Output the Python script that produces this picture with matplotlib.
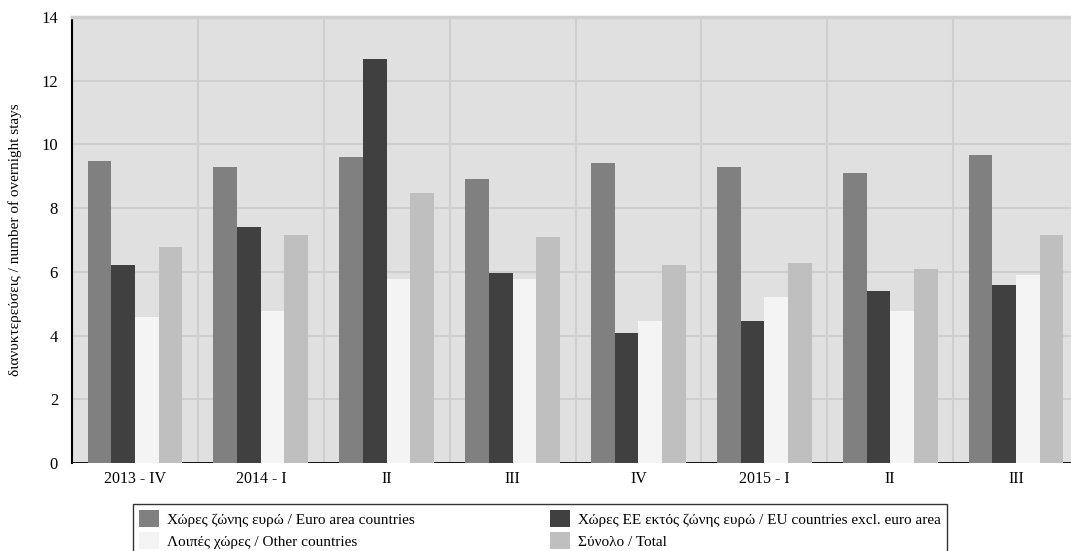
import numpy as np
import matplotlib
matplotlib.use("Agg")
import matplotlib.pyplot as plt

# quarters on the x axis
quarters = ["2013 - IV", "2014 - I", "II", "III", "IV", "2015 - I", "II", "III"]

# overnight stays per series
euro_area = [9.49, 9.30, 9.61, 8.92, 9.42, 9.30, 9.11, 9.68]
eu_non_euro = [6.22, 7.42, 12.69, 5.97, 4.09, 4.47, 5.41, 5.60]
other = [4.59, 4.78, 5.78, 5.78, 4.47, 5.22, 4.78, 5.91]
total = [6.79, 7.17, 8.48, 7.10, 6.22, 6.29, 6.10, 7.17]

labels = [
    "Χώρες ζώνης ευρώ / Euro area countries",
    "Χώρες ΕΕ εκτός ζώνης ευρώ / EU countries excl. euro area",
    "Λοιπές χώρες / Other countries",
    "Σύνολο / Total",
]
colors = ["#808080", "#404040", "#f4f4f4", "#bfbfbf"]

plt.rcParams["font.family"] = ["Liberation Serif", "DejaVu Serif"]

fig = plt.figure(figsize=(10.71, 5.51), dpi=100)
ax = fig.add_axes([72 / 1071, 1 - 463 / 551, 1007 / 1071, 446 / 551])
ax.set_facecolor("#e0e0e0")

x = np.arange(len(quarters))
w = 0.188
offsets = [-1.5 * w, -0.5 * w, 0.5 * w, 1.5 * w]
handles = []
for vals, off, c, lab in zip([euro_area, eu_non_euro, other, total], offsets, colors, labels):
    h = ax.bar(x + off, vals, width=w, color=c, label=lab, zorder=3, linewidth=0)
    handles.append(h)

ax.axhline(0, color="black", lw=2, zorder=2)

ax.set_xlim(-0.5, 7.5)
ax.set_ylim(0, 14)
ax.set_yticks(range(0, 15, 2))
ax.set_xticks(x)
ax.set_xticklabels(quarters)
# gridlines at category borders
ax.set_xticks(np.arange(-0.5, 8, 1), minor=True)
ax.grid(True, which="minor", axis="x", color="#cfcfcf", lw=1.5, zorder=0)
ax.grid(True, which="major", axis="y", color="#cfcfcf", lw=1.5, zorder=0)
ax.set_axisbelow(True)
ax.tick_params(which="both", length=0)
ax.tick_params(axis="y", labelsize=12, pad=10)
ax.tick_params(axis="x", labelsize=11.5, pad=6)

for s in ["right", "bottom"]:
    ax.spines[s].set_visible(False)
ax.spines["top"].set_color("#d0d0d0")
ax.spines["top"].set_linewidth(2.5)
ax.spines["left"].set_color("black")
ax.spines["left"].set_linewidth(1.5)

ax.set_ylabel("διανυκτερεύσεις / number of overnight stays", fontsize=11, labelpad=14)

# legend rows: euro / EU, then other / total (columns fill first)
order = [0, 2, 1, 3]
leg = fig.legend(handles=[handles[i] for i in order],
                 labels=[labels[i] for i in order],
                 ncol=2, loc="upper left", bbox_to_anchor=(133 / 1071, 1 - 504 / 551),
                 frameon=True, fancybox=False, edgecolor="black", fontsize=11,
                 handlelength=1.3, handleheight=1.35, handletextpad=0.5,
                 columnspacing=8.9, labelspacing=0.3, borderpad=0.4,
                 borderaxespad=0)
leg.get_frame().set_linewidth(1)

fig.savefig("out.png", dpi=100)
